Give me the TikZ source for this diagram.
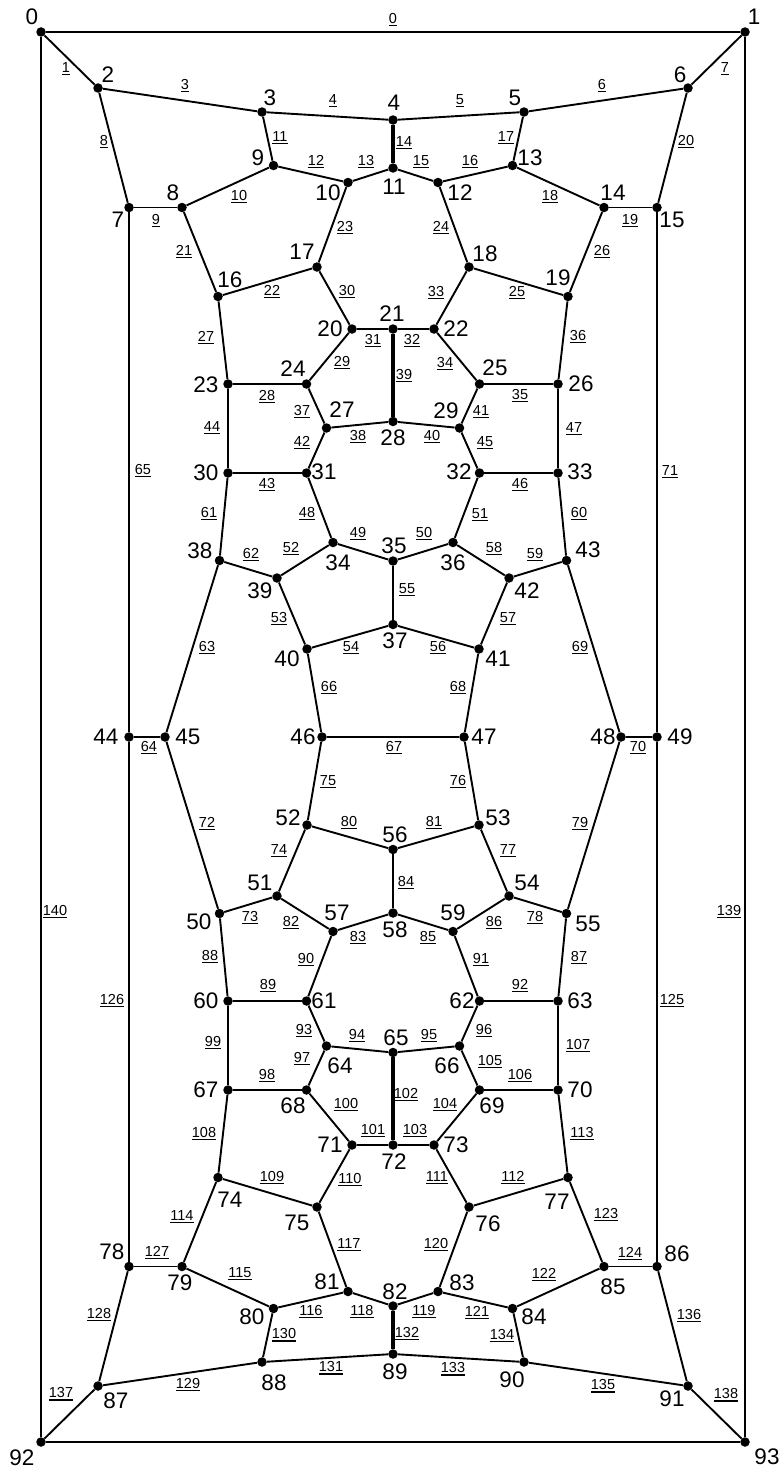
\documentclass[tikz,border=0pt]{standalone}
\usepackage{fontspec}
\setmainfont{Liberation Sans}
\newcommand\vfont{\fontsize{22.5}{22.5}\selectfont}
\newcommand\efont{\fontsize{14.5}{14.5}\selectfont}
\newcommand\eu[1]{\vtop{\hbox{#1}\kern1.5pt\hrule height 1.2pt}}
\tikzset{
 dot/.style={circle,fill=black,inner sep=0pt,minimum size=9.5pt},
 ed/.style={line width=1.9pt},
 edb/.style={line width=3.3pt},
 edm/.style={line width=2.5pt},
 vl/.style={font=\vfont,inner sep=0pt},
 el/.style={font=\efont,inner sep=0pt},
}
\begin{document}
\begin{tikzpicture}[x=1pt,y=-1pt]
\useasboundingbox[fill=white] (0,0) rectangle (784,1472);
% vertices
\foreach \n/\x/\y in {
0/41/32,1/745/32,2/98/88,3/262/112,4/393/120,5/524/112,6/688/88,
7/129/207.5,8/182/207.5,9/273.5/165.5,10/348/182.5,11/393/168,12/438/182.5,13/512.5/165.5,14/604/207.5,15/657/207.5,
16/218/296.5,17/317/267,18/469/267,19/568/296.5,20/352/329,21/393/329,22/434/329,
23/228/384,24/306.5/384,25/479.5/384,26/558/384,27/326.5/428,28/393/421.5,29/459.5/428,
30/228/473,31/306.5/473,32/479.5/473,33/558/473,34/333/542.5,35/393/561,36/453/542.5,
37/393/624.5,38/219.5/560.5,39/277/578,40/307/649,41/479/649,42/509/578,43/566.5/560.5,
44/129/737,45/165/737,46/322/737,47/464/737,48/621/737,49/657/737,
50/219.5/913.5,51/277/896,52/307/825,53/479/825,54/509/896,55/566.5/913.5,
56/393/849.5,57/333/931.5,58/393/913,59/453/931.5,
60/228/1001,61/306.5/1001,62/479.5/1001,63/558/1001,64/326.5/1046,65/393/1052.5,66/459.5/1046,
67/228/1090,68/306.5/1090,69/479.5/1090,70/558/1090,71/352/1145,72/393/1145,73/434/1145,
74/218/1177.5,75/317/1207,76/469/1207,77/568/1177.5,
78/129/1266.5,79/182/1266.5,80/273.5/1308.5,81/348/1291.5,82/393/1306,83/438/1291.5,84/512.5/1308.5,85/604/1266.5,86/657/1266.5,
87/98/1386,88/262/1362,89/393/1354,90/524/1362,91/688/1386,92/41/1442,93/745/1442}
 {\node[dot] (v\n) at (\x,\y) {};}
% vertex labels
\foreach \n/\x/\y in {
0/32/17,1/754/17,2/108/75,3/270/98,4/394/103,5/515/98,6/680/75,
7/118/220,8/173/193,9/258/158,10/328/193,11/394/187,12/460/193,13/530/158,14/613/193,15/672/220,
16/230/280,17/302/252,18/485/254,19/558/278,20/330/329,21/392/314,22/456/329,
23/206/385,24/293/369,25/495/368,26/581/384,27/342/410,28/393/438,29/446/411,
30/206/473,31/324/472,32/459/472,33/580/472,34/338/563,35/394/546,36/453/563,
37/395/641,38/200/551,39/260/591,40/287/659,41/498/659,42/527/591,43/588/550,
44/106/737,45/188/737,46/303/737,47/484/737,48/603/737,49/680/737,
50/199/922,51/260/883,52/288/818,53/498/818,54/527/883,55/588/924,
56/395/835,57/337/913,58/395/930,59/453/913,
60/206/1001,61/324/1001,62/462/1001,63/580/1001,64/340/1066,65/396/1038,66/447/1066,
67/206/1090,68/293/1106,69/492/1106,70/580/1090,71/330/1145,72/394/1162,73/456/1145,
74/230/1200,75/297/1223,76/488/1224,77/557/1202,
78/112/1252,79/180/1283,80/252/1317,81/327/1282,82/395/1292,83/462/1283,84/534/1317,85/613/1287,86/677/1254,
87/116/1401,88/274/1383,89/395/1372,90/512/1380,91/672/1399,92/22/1458,93/767/1457}
 {\node[vl] (l\n) at (\x,\y) {\n};}
% edges with labels
\foreach \a/\b/\n/\x/\y in {
0/1/0/393/20,0/2/1/66/69,2/3/3/185/86,3/4/4/333/101,4/5/5/460/101,5/6/6/602/86,6/1/7/725/69,
2/7/8/104/142,7/8/9/156/221,8/9/10/239/197,3/9/11/280/138,9/10/12/316/162,10/11/13/366/162,
11/12/15/421/162,12/13/16/470/162,5/13/17/506/138,13/14/18/550/197,14/15/19/630/221,6/15/20/686/142,
8/16/21/184/252,16/17/22/272/292,10/17/23/345/228,12/18/24/441/228,18/19/25/517/293,14/19/26/602/252,
16/23/27/206/338,23/24/28/267/397,20/24/29/342/363,17/20/30/347/292,20/21/31/373/341,21/22/32/412/341,
18/22/33/436/293,22/25/34/445/364,25/26/35/520/396,19/26/36/578/337,24/27/37/302/412,27/28/38/358/437,
28/29/40/432/437,25/29/41/481/412,27/31/42/302/443,30/31/43/267/485,23/30/44/212/428,
29/32/45/485/443,32/33/46/520/485,26/33/47/574/429,31/34/48/307/514,34/35/49/358/534,35/36/50/424/534,
32/36/51/480/515,34/39/52/291/549,39/40/53/279/619,40/37/54/351/648,37/41/56/438/648,
41/42/57/508/619,36/42/58/494/549,42/43/59/535/555,33/43/60/579/514,30/38/61/209/514,38/39/62/251/555,
38/45/63/207/648,44/45/64/149/748,7/44/65/143/471,40/46/66/329/688,46/47/67/394/748,41/47/68/458/688,
43/48/69/580/648,48/49/70/638/748,15/49/71/670/472,45/50/72/207/824,50/51/73/250/918,51/52/74/279/851,
46/52/75/328/782,47/53/76/458/782,53/54/77/508/851,54/55/78/535/918,48/55/79/580/824,52/56/80/349/823,
56/53/81/434/823,51/57/82/291/923,57/58/83/358/938,58/59/85/428/938,59/54/86/494/923,
55/63/87/579/958,50/60/88/210/957,60/61/89/268/986,57/61/90/306/960,59/62/91/481/960,62/63/92/520/986,
61/64/93/304/1031,64/65/94/357/1036,65/66/95/429/1036,62/66/96/484/1031,64/68/97/302/1059,
67/68/98/267/1076,60/67/99/213/1043,68/71/100/346/1105,71/72/101/373/1131,72/73/103/415/1131,
73/69/104/445/1105,66/69/105/490/1062,69/70/106/520/1076,63/70/107/578/1046,67/74/108/204/1134,
74/75/109/272/1178,71/75/110/350/1180,73/76/111/437/1178,76/77/112/513/1178,70/77/113/582/1134,
74/79/114/182/1217,79/80/115/240/1274,80/81/116/311/1312,75/81/117/349/1245,81/82/118/362/1312,
82/83/119/424/1312,76/83/120/436/1245,83/84/121/477/1313,84/85/122/544/1275,77/85/123/606/1215,
85/86/124/630/1254,49/86/125/672/1001,44/78/126/112/1001,78/79/127/157/1253,78/87/128/99/1315,
87/88/129/188/1385,80/88/130/284/1335,88/89/131/331/1368,89/90/133/453/1369,84/90/134/502/1336,
90/91/135/603/1386,86/91/136/689/1316,87/92/137/61/1394,91/93/138/726/1395,1/93/139/729/912,0/92/140/55/912}
 {\draw[ed] (v\a) -- (v\b); \node[el] (e\n) at (\x,\y) {\eu{\n}};}
\draw[ed] (v92) -- (v93);
% heavier edges
\foreach \a/\b/\n/\x/\y/\s in {4/11/14/404/143/edb,21/28/39/404/376/edb,65/72/102/406/1095/edb,
82/89/132/407/1334/edb,35/37/55/407/590/edm,56/58/84/406/883/edm}
 {\draw[\s] (v\a) -- (v\b); \node[el] (e\n) at (\x,\y) {\eu{\n}};}
\end{tikzpicture}
\end{document}
